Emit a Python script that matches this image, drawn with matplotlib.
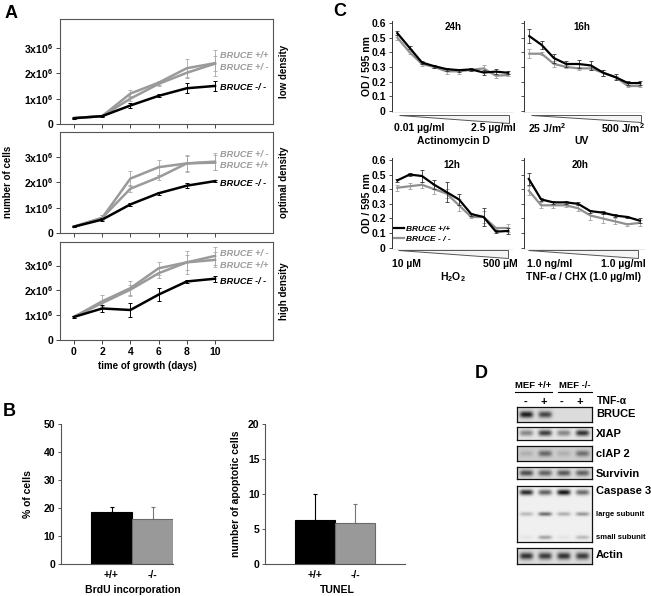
import numpy as np
import matplotlib
matplotlib.use("Agg")
import matplotlib.pyplot as plt
from matplotlib.lines import Line2D
from matplotlib.patches import Polygon

plt.rcParams['font.family'] = ['Liberation Sans', 'DejaVu Sans']
plt.rcParams['font.weight'] = 'bold'
plt.rcParams['mathtext.fontset'] = 'custom'
plt.rcParams['mathtext.bf'] = 'Liberation Sans:bold'
plt.rcParams['mathtext.rm'] = 'Liberation Sans:bold'
plt.rcParams['mathtext.default'] = 'bf'

# ---------------- data ----------------
days = [0, 2, 4, 6, 8, 10]
# panel A (x 10^6 cells)
low_ko = [0.23, 0.31, 0.73, 1.11, 1.41, 1.50]
low_ko_err = [0.02, 0.02, 0.10, 0.06, 0.20, 0.18]
low_wt = [0.23, 0.31, 1.20, 1.63, 2.20, 2.40]
low_wt_err = [0.02, 0.02, 0.15, 0.08, 0.35, 0.50]
low_het = [0.23, 0.31, 1.00, 1.58, 2.02, 2.38]
low_het_err = [0.02, 0.02, 0.10, 0.08, 0.20, 0.30]

opt_ko = [0.25, 0.53, 1.13, 1.57, 1.87, 2.05]
opt_ko_err = [0.02, 0.05, 0.07, 0.05, 0.10, 0.05]
opt_het = [0.25, 0.60, 2.15, 2.60, 2.75, 2.82]
opt_het_err = [0.02, 0.10, 0.30, 0.30, 0.35, 0.35]
opt_wt = [0.25, 0.60, 1.75, 2.20, 2.75, 2.78]
opt_wt_err = [0.02, 0.10, 0.15, 0.10, 0.30, 0.30]

high_ko = [0.93, 1.27, 1.21, 1.83, 2.36, 2.47]
high_ko_err = [0.03, 0.15, 0.30, 0.25, 0.05, 0.12]
high_het = [0.93, 1.56, 2.09, 2.89, 3.13, 3.39]
high_het_err = [0.03, 0.25, 0.30, 0.25, 0.45, 0.35]
high_wt = [0.93, 1.49, 2.03, 2.69, 3.13, 3.23]
high_wt_err = [0.03, 0.10, 0.20, 0.20, 0.30, 0.30]

a_yticks = [0, 1, 2, 3]
a_yticklabels = ['0', '1x10$^6$', '2x10$^6$', '3x10$^6$']

# panel B
genotypes = ['+/+', '-/-']
brdu = [18.8, 16.1]
brdu_err = [1.6, 4.3]
tunel = [6.3, 5.95]
tunel_err = [3.7, 2.65]

# panel C (OD 595 nm, 10 doses)
doses = [1, 2, 3, 4, 5, 6, 7, 8, 9, 10]
act_wt = [0.53, 0.43, 0.33, 0.305, 0.285, 0.278, 0.283, 0.262, 0.268, 0.26]
act_wt_err = [0.015, 0.01, 0.01, 0.01, 0.01, 0.01, 0.01, 0.015, 0.015, 0.01]
act_ko = [0.50, 0.40, 0.32, 0.30, 0.27, 0.27, 0.28, 0.29, 0.24, 0.245]
act_ko_err = [0.015, 0.01, 0.015, 0.01, 0.015, 0.015, 0.01, 0.02, 0.015, 0.01]
uv_wt = [0.51, 0.45, 0.36, 0.32, 0.32, 0.31, 0.26, 0.23, 0.19, 0.19]
uv_wt_err = [0.05, 0.03, 0.03, 0.02, 0.03, 0.03, 0.02, 0.02, 0.015, 0.015]
uv_ko = [0.39, 0.39, 0.32, 0.30, 0.29, 0.29, 0.26, 0.23, 0.17, 0.17]
uv_ko_err = [0.03, 0.01, 0.02, 0.01, 0.01, 0.01, 0.02, 0.01, 0.01, 0.01]
h2o2_wt = [0.46, 0.50, 0.49, 0.43, 0.38, 0.33, 0.23, 0.21, 0.11, 0.115]
h2o2_wt_err = [0.01, 0.01, 0.04, 0.03, 0.07, 0.04, 0.01, 0.06, 0.01, 0.02]
h2o2_ko = [0.41, 0.42, 0.43, 0.40, 0.37, 0.29, 0.21, 0.21, 0.135, 0.135]
h2o2_ko_err = [0.02, 0.02, 0.02, 0.03, 0.03, 0.04, 0.01, 0.04, 0.01, 0.03]
tnf_wt = [0.47, 0.33, 0.31, 0.31, 0.30, 0.25, 0.24, 0.22, 0.21, 0.185]
tnf_wt_err = [0.04, 0.01, 0.01, 0.01, 0.01, 0.01, 0.01, 0.01, 0.01, 0.015]
tnf_ko = [0.39, 0.29, 0.29, 0.29, 0.27, 0.22, 0.20, 0.18, 0.16, 0.17]
tnf_ko_err = [0.03, 0.02, 0.02, 0.01, 0.02, 0.03, 0.03, 0.02, 0.01, 0.02]
c_yticks = [0, 0.1, 0.2, 0.3, 0.4, 0.5, 0.6]
c_yticklabels = ['0', '0.1', '0.2', '0.3', '0.4', '0.5', '0.6']

# panel D (band darkness per lane: MEF+/+ -, +, MEF-/- -, +)
tnf_signs = ['-', '+', '-', '+']
bruce_bands = [0.95, 0.75, 0.0, 0.0]
xiap_bands = [0.45, 0.80, 0.45, 0.85]
ciap_bands = [0.15, 0.55, 0.15, 0.50]
survivin_bands = [0.70, 0.60, 0.65, 0.60]
casp_full_bands = [0.90, 0.65, 1.00, 0.60]
casp_large_bands = [0.25, 0.60, 0.30, 0.40]
casp_small_bands = [0.05, 0.35, 0.05, 0.25]
actin_bands = [0.85, 0.80, 0.85, 0.80]

# ---------------- figure ----------------
W, H = 651, 596
fig = plt.figure(figsize=(W / 100, H / 100), dpi=100)
fig.patch.set_facecolor('white')

BLACK = '#000000'
GRAY = '#9a9a9a'
EGRAY = '#a8a8a8'


def add_ax(l, t, r, b):
    return fig.add_axes([l / W, 1 - b / H, (r - l) / W, (b - t) / H])


def ftext(x, y, s, **kw):
    kw.setdefault('ha', 'center')
    kw.setdefault('va', 'center')
    kw.setdefault('fontweight', 'bold')
    return fig.text(x / W, 1 - y / H, s, **kw)


def fline(x0, y0, x1, y1, **kw):
    fig.add_artist(Line2D([x0 / W, x1 / W], [1 - y0 / H, 1 - y1 / H],
                          transform=fig.transFigure, **kw))


# ---------------- Panel A ----------------
ftext(11, 13, 'A', fontsize=13)
a_specs = [
    (19, 124, 4.14, low_wt, low_wt_err, low_het, low_het_err, low_ko, low_ko_err,
     [('BRUCE +/+', 56, GRAY), ('BRUCE +/ -', 67, GRAY), ('BRUCE -/ -', 87, BLACK)], 'low density'),
    (132, 233, 3.99, opt_het, opt_het_err, opt_wt, opt_wt_err, opt_ko, opt_ko_err,
     [('BRUCE +/ -', 155, GRAY), ('BRUCE +/+', 166, GRAY), ('BRUCE -/ -', 183, BLACK)], 'optimal density'),
    (242, 340, 3.95, high_het, high_het_err, high_wt, high_wt_err, high_ko, high_ko_err,
     [('BRUCE +/ -', 254, GRAY), ('BRUCE +/+', 265, GRAY), ('BRUCE -/ -', 281, BLACK)], 'high density'),
]
for i, (t, b, ytop, g1, g1e, g2, g2e, k, ke, labels, dens) in enumerate(a_specs):
    ax = add_ax(60, t, 273, b)
    ax.set_xlim(-0.99, 14.11)
    ax.set_ylim(0, ytop)
    for s in ax.spines.values():
        s.set_color('#555555')
        s.set_linewidth(0.8)
    for y, e in ((g1, g1e), (g2, g2e)):
        ax.errorbar(days, y, yerr=e, color=GRAY, lw=1.8, elinewidth=0.6,
                    ecolor=EGRAY, capsize=1.5, capthick=0.6, zorder=2)
    ax.errorbar(days, k, yerr=ke, color=BLACK, lw=1.8, elinewidth=0.7,
                ecolor=BLACK, capsize=1.5, capthick=0.7, zorder=3)
    ax.set_yticks(a_yticks)
    ax.set_yticklabels(a_yticklabels, fontsize=7.5, fontweight='bold')
    ax.set_xticks(days)
    ax.tick_params(axis='both', direction='out', length=3, width=0.7,
                   color='#444444', pad=2)
    if i < 2:
        ax.set_xticklabels([])
    else:
        ax.set_xticklabels([str(d) for d in days], fontsize=7.5, fontweight='bold')
    for txt, yy, col in labels:
        ftext(220, yy, txt, ha='left', color=col, fontsize=6.6, fontstyle='italic')
    ftext(284, (t + b) / 2, dens, rotation=90, fontsize=7)

ftext(8, 182, 'number of cells', rotation=90, fontsize=7)
ftext(147, 366, 'time of growth (days)', fontsize=7)

# ---------------- Panel B ----------------
ftext(9, 411, 'B', fontsize=13)


def bar_panel(ax, vals, errs, ymax, yticks, xl):
    cols = ['#000000', '#999999']
    edges = ['#000000', '#6a6a6a']
    ecols = ['#000000', '#777777']
    for i, (v, e) in enumerate(zip(vals, errs)):
        ax.bar(i, v, width=1.0, color=cols[i], edgecolor=edges[i], linewidth=0.8, zorder=2)
        ax.errorbar(i, v, yerr=[[0], [e]], fmt='none', ecolor=ecols[i],
                    elinewidth=0.8, capsize=1.2, capthick=0.8, zorder=1)
    ax.set_ylim(0, ymax)
    ax.set_xlim(*xl)
    ax.set_yticks(yticks)
    ax.set_yticklabels([str(v) for v in yticks], fontsize=7.5, fontweight='bold')
    ax.set_xticks([0, 1])
    ax.set_xticklabels(genotypes, fontsize=7.5, fontweight='bold')
    ax.tick_params(axis='x', length=0, pad=4)
    ax.tick_params(axis='y', direction='out', length=2, width=0.7, color='#555555', pad=2)
    for s in ('top', 'right'):
        ax.spines[s].set_visible(False)
    for s in ('left', 'bottom'):
        ax.spines[s].set_color('#555555')
        ax.spines[s].set_linewidth(0.8)


axb1 = add_ax(60.7, 424, 173, 564.3)
bar_panel(axb1, brdu, brdu_err, 50, [0, 10, 20, 30, 40, 50], (-1.24, 1.5))
ftext(28, 494, '% of cells', rotation=90, fontsize=7.5)
ftext(133, 590, 'BrdU incorporation', fontsize=7.5)

axb2 = add_ax(265, 424, 405, 564.3)
bar_panel(axb2, tunel, tunel_err, 20, [0, 5, 10, 15, 20], (-1.25, 2.25))
ftext(236, 494, 'number of apoptotic cells', rotation=90, fontsize=7.5)
ftext(337, 590, 'TUNEL', fontsize=7.5)

# ---------------- Panel C ----------------
ftext(340, 12, 'C', fontsize=13)

c_specs = [
    (392, 20.7, 512, 111.7, (-0.005, 0.615), act_wt, act_wt_err, act_ko, act_ko_err,
     '24h', (453, 27), True, (399, 115, 509, 122.5),
     [('0.01 µg/ml', 419, 128), ('2.5 µg/ml', 493, 128), ('Actinomycin D', 453, 141)]),
    (524, 20.7, 644, 111.7, (-0.005, 0.615), uv_wt, uv_wt_err, uv_ko, uv_ko_err,
     '16h', (582, 27), False, (531, 115, 641, 122),
     [('25 J/m$^2$', 547, 128), ('500 J/m$^2$', 623, 128), ('UV', 582, 141)]),
    (392, 158, 512, 248.5, (-0.005, 0.613), h2o2_wt, h2o2_wt_err, h2o2_ko, h2o2_ko_err,
     '12h', (452, 165), True, (398, 250, 508, 258.3),
     [('10 µM', 407, 264), ('500 µM', 500, 264), ('H$_2$O$_2$', 453, 277)]),
    (523.5, 158, 644, 248.5, (-0.005, 0.613), tnf_wt, tnf_wt_err, tnf_ko, tnf_ko_err,
     '20h', (580, 165), False, (528, 250, 638, 258.3),
     [('1.0 ng/ml', 550, 264), ('1.0 µg/ml', 623, 264), ('TNF-α / CHX (1.0 µg/ml)', 583, 277)]),
]
for k, (l, t, r, b, yl, wt, wte, ko, koe, title, txy, showy, wedge, wl) in enumerate(c_specs):
    ax = add_ax(l, t, r, b)
    first_px = l + 5.3
    ppu = 12.33
    ax.set_xlim(1 - (first_px - l) / ppu, 1 + (r - first_px) / ppu)
    ax.set_ylim(*yl)
    ax.errorbar(doses, ko, yerr=koe, color='#909090', lw=1.6, elinewidth=0.6,
                ecolor='#a0a0a0', capsize=1.2, capthick=0.6, zorder=2)
    ax.errorbar(doses, wt, yerr=wte, color=BLACK, lw=1.6, elinewidth=0.6,
                ecolor='#333333', capsize=1.2, capthick=0.6, zorder=3)
    for s in ('top', 'right'):
        ax.spines[s].set_visible(False)
    ax.spines['bottom'].set_color('#e6e6e6')
    ax.spines['bottom'].set_linewidth(0.6)
    ax.spines['left'].set_color('#333333')
    ax.spines['left'].set_linewidth(0.7)
    ax.set_xticks([])
    ax.set_yticks(c_yticks)
    if showy:
        ax.set_yticklabels(c_yticklabels, fontsize=7.5, fontweight='bold')
    else:
        ax.set_yticklabels([])
    ax.tick_params(axis='y', direction='out', length=2.5, width=0.6, color='#333333', pad=2)
    ftext(txy[0], txy[1], title, fontsize=7)
    if k == 2:
        h_wt = Line2D([], [], color=BLACK, lw=1.6)
        h_ko = Line2D([], [], color='#909090', lw=1.6)
        ax.legend([h_wt, h_ko], ['BRUCE +/+', 'BRUCE - / -'], loc='center left',
                  bbox_to_anchor=(0.02, 0.16), frameon=False, handlelength=1.1,
                  handletextpad=0.3, labelspacing=0.2, borderpad=0, borderaxespad=0,
                  prop={'family': 'Liberation Sans', 'style': 'italic',
                        'weight': 'bold', 'size': 6})
    # dose wedge
    wx0, wy0, wx1, wy1 = wedge
    wax = add_ax(wx0, wy0, wx1, wy1)
    wax.set_axis_off()
    wax.set_xlim(0, 1)
    wax.set_ylim(0, 1)
    wax.add_patch(Polygon([(0, 1), (1, 1), (1, 0)], closed=True, facecolor='#f4f4f4',
                          edgecolor='#555555', linewidth=0.7, clip_on=False))
    for txt, xx, yy in wl:
        ftext(xx, yy, txt, fontsize=7.5)
    if showy:
        ftext(367, (t + b) / 2, 'OD / 595 nm', rotation=90, fontsize=7.5)

# ---------------- Panel D ----------------
ftext(481, 374, 'D', fontsize=13)
ftext(533, 386, 'MEF +/+', fontsize=6.8)
ftext(575, 386, 'MEF -/-', fontsize=6.8)
fline(515, 392, 552, 392, color='black', lw=0.8)
fline(558, 392, 592, 392, color='black', lw=0.8)
lane_px = [525, 543.5, 562, 580]
for sgn, xx in zip(tnf_signs, lane_px):
    ftext(xx, 401.5, sgn, fontsize=8)
ftext(597, 401.5, 'TNF-α', ha='left', fontsize=7.5)


def blot(t, b, bg, bands, label_rows):
    ax = add_ax(516.7, t, 591.7, b)
    nx, ny = 300, 120
    xs = np.linspace(0, 4, nx)
    ys = np.linspace(0, 1, ny)
    X, Y = np.meshgrid(xs, ys)
    dark = np.zeros_like(X)
    for yc, sy, dens in bands:
        for i, d in enumerate(dens):
            dark += d * np.exp(-((X - (i + 0.5)) / 0.36) ** 4) * np.exp(-((Y - yc) / sy) ** 2)
    img = bg * (1 - np.clip(dark, 0, 1) * 0.92)
    ax.imshow(img, cmap='gray', vmin=0, vmax=1, extent=(0, 4, 0, 1), origin='lower',
              aspect='auto', interpolation='bilinear')
    ax.set_xlim(0, 4)
    ax.set_ylim(0, 1)
    ax.set_xticks([])
    ax.set_yticks([])
    for s in ax.spines.values():
        s.set_color('#111111')
        s.set_linewidth(0.9)
    for txt, yy, fs in label_rows:
        ftext(596, yy, txt, ha='left', fontsize=fs)


blot(406.7, 421.7, 0.86, [(0.5, 0.22, bruce_bands)], [('BRUCE', 414.3, 8)])
blot(426.7, 440, 0.90, [(0.5, 0.22, xiap_bands)], [('XIAP', 434, 8)])
blot(446, 461, 0.80, [(0.5, 0.2, ciap_bands)], [('cIAP 2', 454, 8)])
blot(467.3, 479.3, 0.85, [(0.5, 0.25, survivin_bands)], [('Survivin', 474.3, 8)])
blot(486, 541.7, 0.94, [(0.89, 0.05, casp_full_bands), (0.5, 0.035, casp_large_bands),
                        (0.08, 0.035, casp_small_bands)],
     [('Caspase 3', 491, 8), ('large subunit', 514, 5.5), ('small subunit', 537.7, 5.5)])
blot(548.3, 564, 0.86, [(0.5, 0.22, actin_bands)], [('Actin', 555.5, 8)])

fig.savefig('out.png', dpi=100, facecolor='white')
